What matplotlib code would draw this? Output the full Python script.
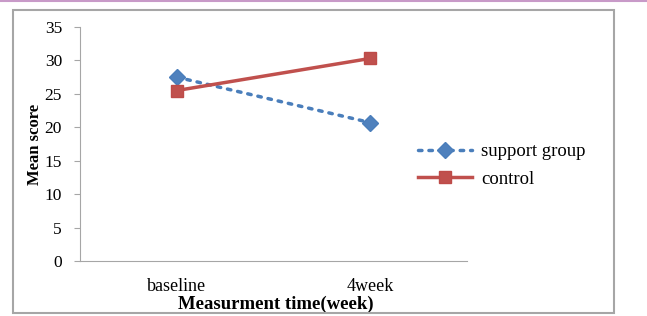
import matplotlib.pyplot as plt
from matplotlib.patches import Rectangle
from matplotlib.lines import Line2D

categories = ["baseline", "4week"]
support_group = [27.5, 20.7]
control = [25.5, 30.3]
yticks = [0, 5, 10, 15, 20, 25, 30, 35]

W, H = 647, 316
fig = plt.figure(figsize=(W / 100, H / 100), dpi=100)
plt.rcParams['font.family'] = ['Liberation Serif', 'DejaVu Serif']

# outer frame
fig.patches.append(Rectangle((13 / W, 1 - 313 / H), (614 - 13) / W, (313 - 10) / H,
                             transform=fig.transFigure, fill=False,
                             edgecolor='#a6a6a6', linewidth=1.5))
# top pink rule
fig.add_artist(Line2D([0, 1], [1 - 1 / H, 1 - 1 / H], transform=fig.transFigure,
                      color='#c89ac8', linewidth=1.5))

ax = fig.add_axes([80 / W, 1 - 261 / H, (467 - 80) / W, (261 - 27) / H])
x = [0, 1]
ax.plot(x, support_group, linestyle=(0, (1, 2)), color='#4a7ebb', linewidth=2.5,
        marker='D', markersize=8, markeredgecolor='#4a7ebb', markerfacecolor='#4f81bd',
        label='support group', dash_capstyle='round')
ax.plot(x, control, linestyle='-', color='#c0504d', linewidth=2.5,
        marker='s', markersize=9, markeredgecolor='#be4b48', markerfacecolor='#c0504d',
        label='control')
ax.set_xlim(-0.5, 1.5)
ax.set_ylim(0, 35)
ax.set_yticks(yticks)
ax.set_yticklabels([str(v) for v in yticks], fontsize=12.5)
ax.set_xticks(x)
ax.set_xticklabels(categories, fontsize=13)
ax.tick_params(axis='x', length=0, pad=12)
ax.tick_params(axis='y', length=4, color='#a6a6a6', pad=9)
for s in ['top', 'right']:
    ax.spines[s].set_visible(False)
for s in ['left', 'bottom']:
    ax.spines[s].set_color('#a6a6a6')
ax.set_ylabel('Mean score', fontsize=12, fontweight='bold', labelpad=1)
ax.set_xlabel('Measurment time(week)', fontsize=13.5, fontweight='bold')
ax.xaxis.set_label_coords(0.505, -0.185)
ax.xaxis.label.set_verticalalignment('center')
ax.legend(loc='upper left', bbox_to_anchor=(418 / W, 1 - 143 / H), bbox_transform=fig.transFigure,
          frameon=False, fontsize=13.5, handlelength=2.9, handletextpad=0.45, labelspacing=0.55,
          borderaxespad=0, borderpad=0)

fig.savefig('out.png', dpi=100)
